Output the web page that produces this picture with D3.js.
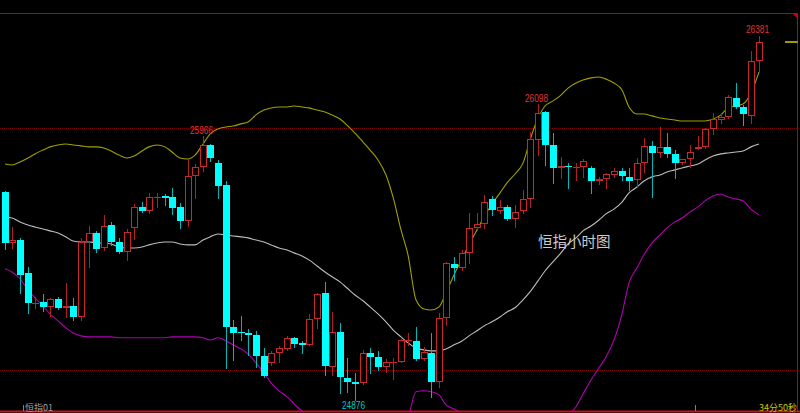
<!DOCTYPE html>
<html><head><meta charset="utf-8">
<script src="https://cdn.jsdelivr.net/npm/d3@7"></script>
<style>html,body{margin:0;padding:0;background:#000;overflow:hidden}</style>
</head><body><svg id="c" width="800" height="413"></svg>
<script>
// ---- data (Hang Seng hourly candles) ----
const opens  = [25736,25525,25537,25402,25273,25282,25261,25294,25256,25265,25219,25529,25567,25504,25599,25529,25488,25587,25674,25657,
25711,25719,25715,25674,25616,25802,25839,25930,25855,25764,25178,25157,25153,25145,25058,25030,25071,25087,25133,25112,
25104,25211,25319,25013,25157,24967,24951,24947,25071,25054,25013,25030,25034,25120,25120,25046,25071,24951,25215,25438,
25422,25484,25587,25603,25707,25657,25674,25624,25657,25707,25950,26066,25930,25835,25843,25835,25839,25835,25781,25789,
25806,25822,25798,25785,25855,25926,25897,25922,25893,25855,25872,25913,25922,25996,26033,26045,26124,26087,26050,26277];
const highs  = [25740,25591,25545,25426,25302,25314,25298,25302,25360,25298,25545,25595,25575,25640,25612,25545,25583,25686,25694,25732,
25732,25727,25752,25690,25868,25851,25966,25934,25868,25781,25207,25224,25170,25162,25091,25079,25100,25141,25137,25120,
25232,25319,25364,25240,25195,25050,24988,25083,25091,25079,25046,25050,25128,25153,25178,25095,25153,25236,25447,25467,
25496,25649,25649,25723,25719,25703,25682,25682,25744,25983,26098,26070,25979,25880,25855,25855,25872,25843,25798,25814,
25835,25835,25835,25876,25959,25946,26004,25979,25909,25872,25930,25967,26000,26062,26062,26136,26186,26095,26318,26381];
const lows   = [25500,25504,25319,25236,25256,25244,25224,25252,25219,25207,25207,25426,25488,25496,25517,25484,25455,25541,25653,25649,
25674,25682,25645,25587,25595,25711,25822,25864,25711,25009,25042,25124,25062,25013,24970,25021,25034,25083,25095,25071,
25104,25174,24980,24980,24905,24910,24876,24943,24988,25000,24992,24963,25034,25104,25042,25042,24889,24930,25186,25372,
25414,25442,25579,25587,25641,25649,25620,25591,25649,25674,25888,25847,25773,25793,25752,25785,25798,25732,25769,25752,
25798,25785,25744,25756,25818,25715,25880,25880,25793,25851,25839,25913,25918,25975,26021,26041,26083,26012,26021,26231];
const closes = [25525,25537,25393,25278,25278,25261,25294,25256,25265,25219,25529,25567,25500,25595,25529,25488,25571,25674,25657,25715,
25715,25711,25670,25616,25802,25839,25930,25876,25760,25178,25153,25153,25145,25058,24975,25071,25091,25133,25108,25104,
25211,25314,25017,25157,24972,24951,24943,25071,25054,25013,25034,25034,25124,25124,25046,25075,24951,25215,25442,25422,
25484,25587,25603,25694,25661,25674,25624,25653,25707,25955,26062,25930,25835,25843,25839,25839,25864,25781,25789,25810,
25822,25802,25781,25855,25926,25897,25922,25893,25855,25872,25901,25922,25996,26037,26045,26128,26087,26058,26277,26355];
// Bollinger bands (upper / middle / lower)
const bollUpper = [25851,25847,25860,25876,25893,25909,25922,25930,25934,25930,25926,25922,25922,25917,25905,25888,25876,25884,25905,25922,
25930,25922,25901,25876,25872,25888,25934,25975,25996,26004,26008,26017,26025,26054,26074,26083,26087,26087,26091,26087,
26083,26074,26066,26054,26037,26012,25979,25942,25909,25868,25806,25715,25579,25476,25290,25252,25248,25261,25319,25393,
25459,25517,25579,25632,25686,25732,25773,25810,25855,25950,26041,26091,26112,26136,26165,26186,26198,26207,26211,26202,
26186,26157,26087,26058,26058,26050,26041,26037,26033,26029,26029,26029,26029,26037,26054,26083,26091,26099,26145,26231];
const bollMid = [25632,25628,25612,25599,25591,25583,25575,25566,25550,25533,25529,25529,25525,25525,25521,25508,25504,25504,25508,25517,
25525,25529,25529,25521,25517,25517,25537,25550,25562,25558,25554,25550,25546,25537,25529,25517,25504,25496,25484,25471,
25455,25430,25405,25385,25364,25339,25310,25286,25261,25232,25199,25166,25137,25112,25091,25083,25079,25079,25087,25104,
25120,25141,25162,25182,25199,25219,25240,25257,25290,25323,25368,25409,25447,25484,25521,25546,25575,25595,25620,25645,
25665,25694,25732,25756,25781,25798,25806,25818,25827,25835,25843,25851,25868,25884,25893,25897,25901,25905,25922,25934];
const bollLower = [25418,25405,25376,25331,25298,25265,25232,25203,25174,25153,25141,25137,25137,25137,25137,25133,25133,25133,25133,25133,
25133,25133,25137,25137,25137,25137,25133,25124,25133,25120,25104,25087,25067,25029,24988,24947,24914,24889,24860,24831,
24819,24786,24745,24716,24691,24666,24641,24629,24612,24596,24592,24616,24695,24794,24910,24914,24910,24897,24856,24839,
24819,24786,24745,24732,24711,24707,24707,24703,24724,24695,24695,24711,24745,24777,24811,24848,24901,24959,25009,25054,
25124,25232,25360,25422,25476,25525,25558,25587,25612,25628,25653,25674,25699,25719,25727,25715,25707,25699,25665,25641];
const gridLevels = [25000, 26000];
const peakIdx = [26, 70, 99];
const troughIdx = [46];
const titleText = "恒指小时图";
const codeText = "恒指01";
const timerText = "34分50秒";

// ---- drawing ----
const W = 800, H = 413;
const svg = d3.select("#c");
svg.append("rect").attr("width", W).attr("height", H).attr("fill", "#000");

const idx = d3.range(opens.length);
const x = d3.scaleBand().domain(idx).range([0.2, 763.2]).padding(0.2);
const cx = i => Math.round(x(i) + x.bandwidth() / 2);
const y = d3.scaleLinear().domain([25000, 26000]).range([370, 128]);
const plotTop = 13, plotBottom = 411, plotRight = 797;

const defs = svg.append("defs");
defs.append("clipPath").attr("id", "clip").append("rect")
  .attr("x", 0).attr("y", plotTop).attr("width", plotRight).attr("height", plotBottom - plotTop);

// grid lines
svg.selectAll(".grid").data(gridLevels).join("line")
  .attr("x1", 0).attr("x2", plotRight)
  .attr("y1", d => Math.round(y(d)) + 0.5).attr("y2", d => Math.round(y(d)) + 0.5)
  .attr("stroke", "#780000").attr("stroke-dasharray", "1,1").attr("stroke-width", 1)
  .attr("shape-rendering", "crispEdges");

// frame
svg.append("line").attr("x1", 0).attr("x2", 798).attr("y1", plotTop + 0.5).attr("y2", plotTop + 0.5)
  .attr("stroke", "#a01010");
svg.append("line").attr("x1", plotRight + 0.5).attr("x2", plotRight + 0.5).attr("y1", plotTop).attr("y2", plotBottom)
  .attr("stroke", "#a01010");
svg.append("line").attr("x1", 0).attr("x2", 800).attr("y1", plotBottom + 0.5).attr("y2", plotBottom + 0.5)
  .attr("stroke", "#c81414").attr("stroke-width", 2);
svg.append("path").attr("d", "M792,13L798,13L798,19Z").attr("fill", "#d00000");

const g = svg.append("g").attr("clip-path", "url(#clip)");

// bands
const bandLine = arr => d3.line().curve(d3.curveMonotoneX).x((d, i) => cx(i)).y(d => y(d))(arr);
g.append("path").attr("d", bandLine(bollUpper)).attr("fill", "none").attr("stroke", "#a0a000").attr("stroke-width", 1.1);
g.append("path").attr("d", bandLine(bollMid)).attr("fill", "none").attr("stroke", "#bcbcbc").attr("stroke-width", 1.1);
g.append("path").attr("d", bandLine(bollLower)).attr("fill", "none").attr("stroke", "#b000b0").attr("stroke-width", 1.1);

// candles
const RED = "#c8282d", RED_W = "#b02020", CY = "#00ffff", CY_W = "#00b8b8";
const cg = g.append("g").attr("shape-rendering", "crispEdges");
idx.forEach(i => {
  const o = opens[i], h = highs[i], l = lows[i], c = closes[i];
  const up = c >= o;
  const xc = cx(i);
  const yTop = Math.round(y(Math.max(o, c))), yBot = Math.round(y(Math.min(o, c)));
  const yH = Math.round(y(h)), yL = Math.round(y(l));
  if (up) {
    cg.append("line").attr("x1", xc + 0.5).attr("x2", xc + 0.5).attr("y1", yH).attr("y2", yTop).attr("stroke", RED_W);
    cg.append("line").attr("x1", xc + 0.5).attr("x2", xc + 0.5).attr("y1", yBot).attr("y2", yL + 1).attr("stroke", RED_W);
    if (yBot - yTop < 2) {
      cg.append("rect").attr("x", xc - 3).attr("y", yTop).attr("width", 7).attr("height", Math.max(1, yBot - yTop)).attr("fill", RED);
    } else {
      cg.append("rect").attr("x", xc - 2.5).attr("y", yTop + 0.5).attr("width", 6).attr("height", yBot - yTop - 1)
        .attr("fill", "#000").attr("stroke", RED);
    }
  } else {
    cg.append("line").attr("x1", xc + 0.5).attr("x2", xc + 0.5).attr("y1", yH).attr("y2", yL + 1).attr("stroke", CY_W);
    cg.append("rect").attr("x", xc - 3).attr("y", yTop).attr("width", 7).attr("height", Math.max(1, yBot - yTop)).attr("fill", CY);
  }
});

// last price marker
svg.append("line").attr("x1", 785).attr("x2", 798)
  .attr("y1", Math.round(y(closes[closes.length - 1])) ).attr("y2", Math.round(y(closes[closes.length - 1])))
  .attr("stroke", "#9c9c00").attr("stroke-width", 2);

// peak / trough labels
const numFont = "'Liberation Sans', Arial, sans-serif";
peakIdx.forEach(i => {
  svg.append("text").attr("x", cx(i) - 1.5).attr("y", y(highs[i]) - 2.5)
    .attr("text-anchor", "middle").attr("font-family", numFont).attr("font-size", 10)
    .attr("textLength", 23).attr("lengthAdjust", "spacingAndGlyphs")
    .attr("fill", "#e03434").text(highs[i]);
});
troughIdx.forEach(i => {
  svg.append("text").attr("x", cx(i) - 1.5).attr("y", y(lows[i]) + 9)
    .attr("text-anchor", "middle").attr("font-family", numFont).attr("font-size", 10)
    .attr("textLength", 23).attr("lengthAdjust", "spacingAndGlyphs")
    .attr("fill", "#00c8c8").text(lows[i]);
});

// captions
svg.append("text").attr("x", 538).attr("y", 247).attr("font-family", "'Noto Sans CJK SC', sans-serif")
  .attr("font-size", 14.5).attr("fill", "#cccccc").text(titleText);
svg.append("text").attr("x", 25).attr("y", 411).attr("font-family", "'Noto Sans CJK SC', sans-serif")
  .attr("font-size", 9).attr("fill", "#a0a0a0").text(codeText);
svg.append("text").attr("x", 797).attr("y", 411).attr("text-anchor", "end").attr("font-family", "'Noto Sans CJK SC', sans-serif")
  .attr("font-size", 9).attr("fill", "#c8c800").text(timerText);
// time ticks
[23, 695].forEach(t => {
  svg.append("line").attr("x1", t + 0.5).attr("x2", t + 0.5).attr("y1", 405).attr("y2", 411).attr("stroke", "#808080");
});
</script></body></html>
